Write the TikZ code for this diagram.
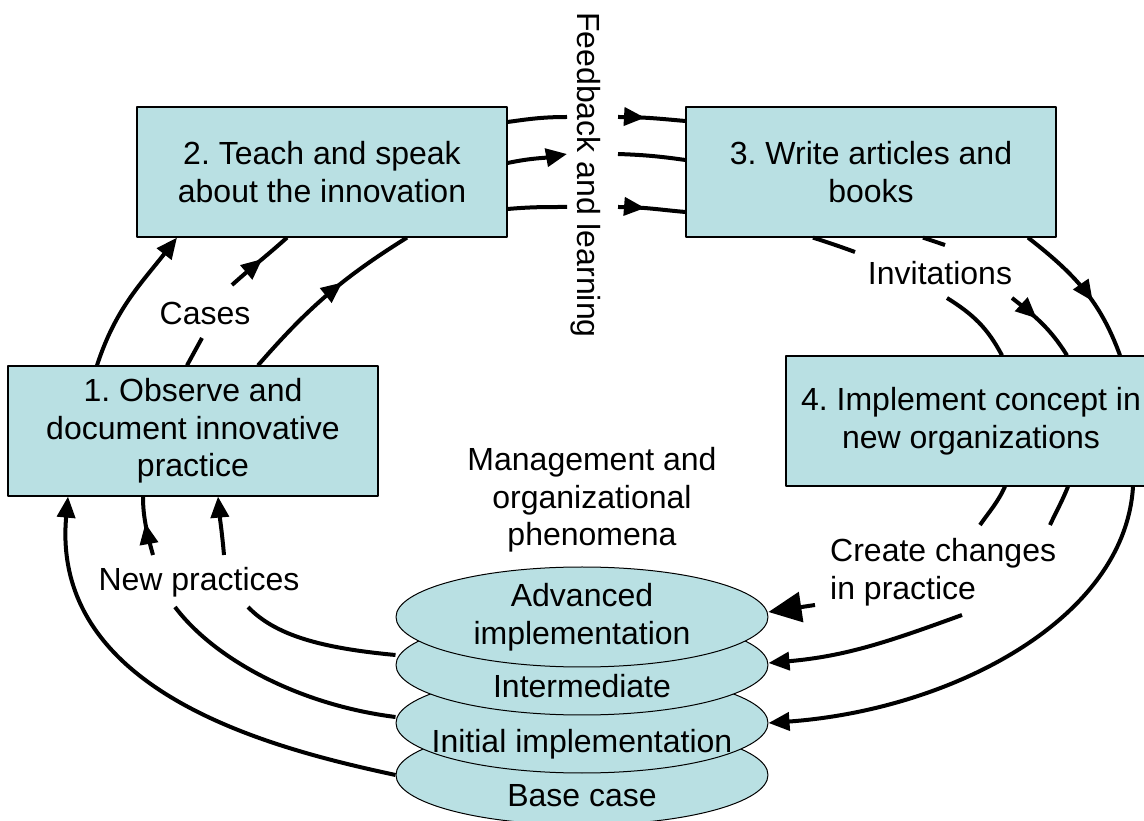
\documentclass[tikz,border=0pt]{standalone}
\usepackage{fontspec}
\setmainfont{Liberation Sans}
\frenchspacing
\usetikzlibrary{arrows.meta,shapes.geometric,decorations.markings}
\definecolor{stagefill}{RGB}{185,224,227}
\tikzset{
  card/.style={draw,line width=1.2pt,fill=stagefill,minimum width=370pt,minimum height=130pt,inner sep=0pt,align=center},
  tier/.style={ellipse,draw,line width=1pt,fill=stagefill,minimum width=372pt,minimum height=100pt,inner sep=0pt,align=center},
  flow/.style={line width=4pt},
  midtip/.style={postaction={decorate,decoration={markings,mark=at position #1 with {\arrow{>}}}}}
}
\begin{document}
\begin{tikzpicture}[x=1pt,y=1pt,font=\fontsize{32}{37.5}\selectfont,line join=round,>={Triangle[length=21pt,width=18pt]}]
\clip (0,0) rectangle (1144,820);
% the four steps
\node[card] (b1) at (193,389) {1. Observe and\\document innovative\\practice};
\node[card] (b2) at (322,648) {2. Teach and speak\\about the innovation};
\node[card] (b3) at (871,648) {3. Write articles and\\books};
\node[card] (b4) at (971,399) {4. Implement concept in\\new organizations};
% stacked levels, back to front
\node[tier] (base) at (582,45) {};
\node (baseT) at ([yshift=-21pt]base.center) {Base case};
\node[tier] (init) at (582,97) {};
\node (initT) at ([yshift=-21pt]init.center) {Initial implementation};
\node[tier] (inter) at (582,155) {};
\node (interT) at ([yshift=-21pt]inter.center) {Intermediate};
\node[tier] (adv) at (582,203) {Advanced\\implementation};
% labels
\node[align=center] (mgmt) at (592,320) {Management and\\organizational\\phenomena};
\node (cases) at (205,507) {Cases};
\node (newpr) at (199,238) {New practices};
\node (invit) at (940,547) {Invitations};
\node[anchor=west,align=left,inner sep=0pt] (change) at (830,248) {Create changes\\in practice};
\node[rotate=-90] (feedb) at (586,645) {Feedback and learning};
% 1 -> 2
\coordinate (casesA) at (202,482);
\coordinate (casesB) at (232,535);
\draw[flow,->] ([xshift=-96pt]b1.north) to[out=72,in=-128] ([xshift=-145pt]b2.south);
\draw[flow] ([xshift=-6pt]b1.north) -- (casesA);
\draw[flow,midtip=0.55] (casesB) to[out=42,in=-138] ([xshift=-35pt]b2.south);
\draw[flow,midtip=0.6] ([xshift=65pt]b1.north) to[out=49,in=-148] ([xshift=85pt]b2.south);
% 2 -> 3
\coordinate (fbTopL) at (567,703);
\coordinate (fbTopR) at (618,703);
\coordinate (fbMidL) at (567,666);
\coordinate (fbMidR) at (618,666);
\coordinate (fbBotL) at (567,613);
\coordinate (fbBotR) at (618,613);
\draw[flow] ([yshift=50pt]b2.east) to[out=8,in=180] (fbTopL);
\draw[flow,midtip=0.4] (fbTopR) to[out=0,in=175] ([yshift=51pt]b3.west);
\draw[flow,->] ([yshift=9pt]b2.east) to[out=12,in=190] (fbMidL);
\draw[flow] (fbMidR) to[out=-2,in=172] ([yshift=12pt]b3.west);
\draw[flow] ([yshift=-37pt]b2.east) to[out=5,in=180] (fbBotL);
\draw[flow,midtip=0.4] (fbBotR) to[out=0,in=175] ([yshift=-40pt]b3.west);
% 3 -> 4
\coordinate (invInA) at (855,568);
\coordinate (invInB) at (947,522);
\coordinate (invMidA) at (945,575);
\coordinate (invMidB) at (1012,522);
\draw[flow] ([xshift=-58pt]b3.south) to[out=-18,in=160] (invInA);
\draw[flow] (invInB) to[out=-32,in=118] ([xshift=31pt]b4.north);
\draw[flow] ([xshift=52pt]b3.south) -- (invMidA);
\draw[flow,midtip=0.4] (invMidB) to[out=-38,in=122] ([xshift=96pt]b4.north);
\draw[flow,midtip=0.6] ([xshift=157pt]b3.south) to[out=-38,in=110] ([xshift=149pt]b4.north);
% 4 -> levels
\coordinate (chgMidA) at (1050,295);
\coordinate (chgMidB) at (962,205);
\coordinate (chgInA) at (980,295);
\coordinate (chgInB) at (815,215);
\draw[flow,->] ([xshift=162pt]b4.south) .. controls (1125,200) and (950,110) .. (init.east);
\draw[flow] ([xshift=97pt]b4.south) to[out=-112,in=65] (chgMidA);
\draw[flow,->] (chgMidB) to[out=200,in=5] ([yshift=2pt]inter.east);
\draw[flow] ([xshift=34pt]b4.south) to[out=-115,in=55] (chgInA);
\draw[flow,-{Triangle[length=33pt,width=30pt]}] (chgInB) -- ([yshift=5pt]adv.east);
% levels -> 1
\coordinate (npMidA) at (175,213);
\coordinate (npMidB) at (153,265);
\coordinate (npInA) at (248,213);
\coordinate (npInB) at (224,265);
\draw[flow,->] (base.west) .. controls (280,70) and (50,125) .. ([xshift=-125pt]b1.south);
\draw[flow] ([yshift=6pt]init.west) .. controls (300,115) and (215,160) .. (npMidA);
\draw[flow,midtip=0.55] (npMidB) .. controls (146,290) and (143,305) .. ([xshift=-50pt]b1.south);
\draw[flow] ([yshift=10pt]inter.west) .. controls (320,172) and (275,185) .. (npInA);
\draw[flow,->] (npInB) to[out=95,in=-85] ([xshift=25pt]b1.south);
\end{tikzpicture}
\end{document}
